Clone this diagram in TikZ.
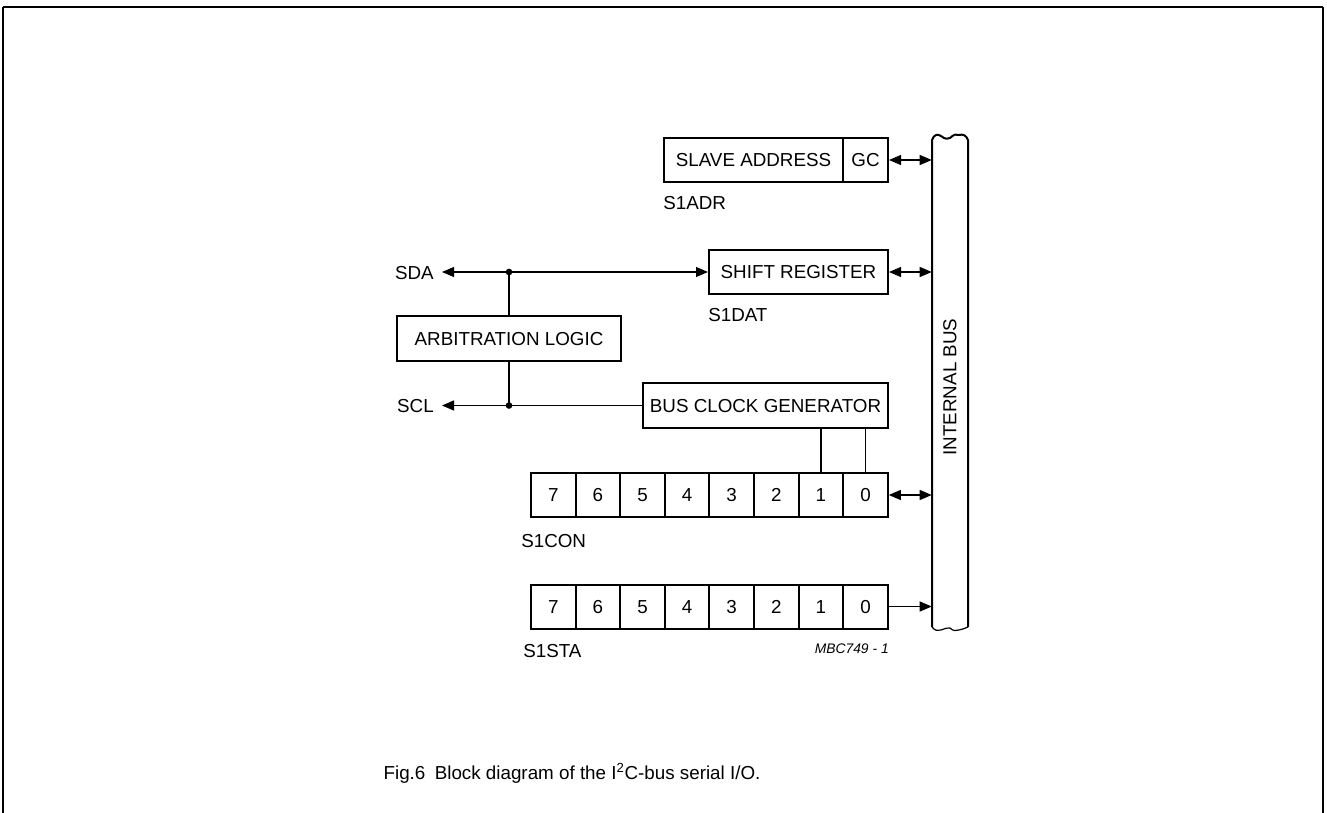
\documentclass[tikz,border=0pt]{standalone}
\usepackage{fontspec}
\setmainfont{Liberation Sans}
\usetikzlibrary{arrows.meta}
\begin{document}
\begin{tikzpicture}[x=0.75pt,y=-0.75pt,
  lbl/.style={font=\fontsize{14.1}{17}\selectfont, inner sep=0pt},
  box/.style={draw, line width=1.5pt, inner sep=0pt, font=\fontsize{14.1}{17}\selectfont, minimum height=33pt, text height=10.2pt, text depth=0pt},
  cell/.style={box, minimum width=33.45pt},
  conn/.style={line width=0.9pt},
  tip/.style={-{Triangle[length=9pt,width=7.5pt]}},
  dtip/.style={{Triangle[length=9pt,width=7.5pt]}-{Triangle[length=9pt,width=7.5pt]}},
  dot/.style={circle, fill, inner sep=0pt, minimum size=5pt}]
\useasboundingbox (0,0) rectangle (1327,813);
% frame
\draw[line width=1.6pt] (3,7) -- (1323,7);
\draw[line width=0.9pt] (3,7) -- (3,813);
\draw[line width=0.9pt] (1323,7) -- (1323,813);

% internal bus
\node[inner sep=0pt, minimum width=27pt, minimum height=367.5pt] (bus) at (950,382) {};
\draw[line width=1.5pt] (932,627) -- (932,140)
  .. controls (934,134) and (938,134) .. (941,136)
  .. controls (945,139) and (946,139) .. (950,138)
  .. controls (954,134) and (957,134) .. (959,135)
  .. controls (963,134) and (966,135) .. (968,140)
  -- (968,627);
\draw[line width=0.9pt] (932,627)
  .. controls (935,631) and (938,631) .. (941,630)
  .. controls (945,629) and (947,627) .. (950,628)
  .. controls (953,631) and (956,631) .. (959,630)
  .. controls (963,629) and (966,628) .. (968,627);
\node[lbl, rotate=90] (busl) at (950,387) {INTERNAL BUS};

% slave address
\node[box, minimum width=134.25pt] (sa) at (753.5,160) {SLAVE ADDRESS};
\node[box, minimum width=33.75pt] (gc) at (865.5,160) {GC};
\node[lbl, anchor=west] (s1adr) at (663,203) {S1ADR};
\draw[conn, dtip] (gc.east) -- (gc.east -| bus.west);

% shift register
\node[box, minimum width=134.25pt] (sr) at (798.5,272) {SHIFT REGISTER};
\node[lbl, anchor=west] (s1dat) at (708,315) {S1DAT};
\draw[conn, dtip] (sr.east) -- (sr.east -| bus.west);

% arbitration logic
\node[box, minimum width=168pt, minimum height=33.75pt] (arb) at (509,338.5) {ARBITRATION LOGIC};

% bus clock generator
\node[box, minimum width=183.75pt, minimum height=33.75pt] (bcg) at (765.5,405.5) {BUS CLOCK GENERATOR};

% SDA / SCL
\node[lbl, anchor=east] (sda) at (434,273) {SDA};
\node[lbl, anchor=east] (scl) at (434,406) {SCL};
\coordinate (sdatip) at (442,272);
\coordinate (scltip) at (442,405.5);
\node[dot] (j1) at (509,272) {};
\node[dot] (j2) at (509,405.5) {};
\draw[conn, tip] (j1.center) -- (sdatip);
\draw[conn, tip] (j1.center) -- (sr.west);
\draw[conn] (j1.center) -- (arb.north);
\draw[conn] (arb.south) -- (j2.center);
\draw[conn, tip] (bcg.west) -- (j2.center) -- (scltip);

% S1CON / S1STA
\foreach \b [count=\i from 0] in {7,6,5,4,3,2,1,0}{
  \node[cell] (con\b) at ({553.3+\i*44.6},495) {\b};
  \node[cell] (sta\b) at ({553.3+\i*44.6},606.5) {\b};
}
\node[lbl, anchor=west] (s1con) at (521,541) {S1CON};
\node[lbl, anchor=west] (s1sta) at (523,651) {S1STA};
\node[font=\fontsize{10.4}{12}\selectfont\itshape, inner sep=0pt, anchor=east] (mbc) at (889,649) {MBC749 - 1};
\draw[conn] (con1.north) -- (con1.north |- bcg.south);
\draw[conn] (con0.north) -- (con0.north |- bcg.south);
\draw[conn, dtip] (con0.east) -- (con0.east -| bus.west);
\draw[conn, tip] (sta0.east) -- (sta0.east -| bus.west);

% caption
\node[lbl] (cap) at (572,773) {Fig.6\hspace{0.5em}Block diagram of the I\textsuperscript{2}C-bus serial I/O.};
\end{tikzpicture}
\end{document}
